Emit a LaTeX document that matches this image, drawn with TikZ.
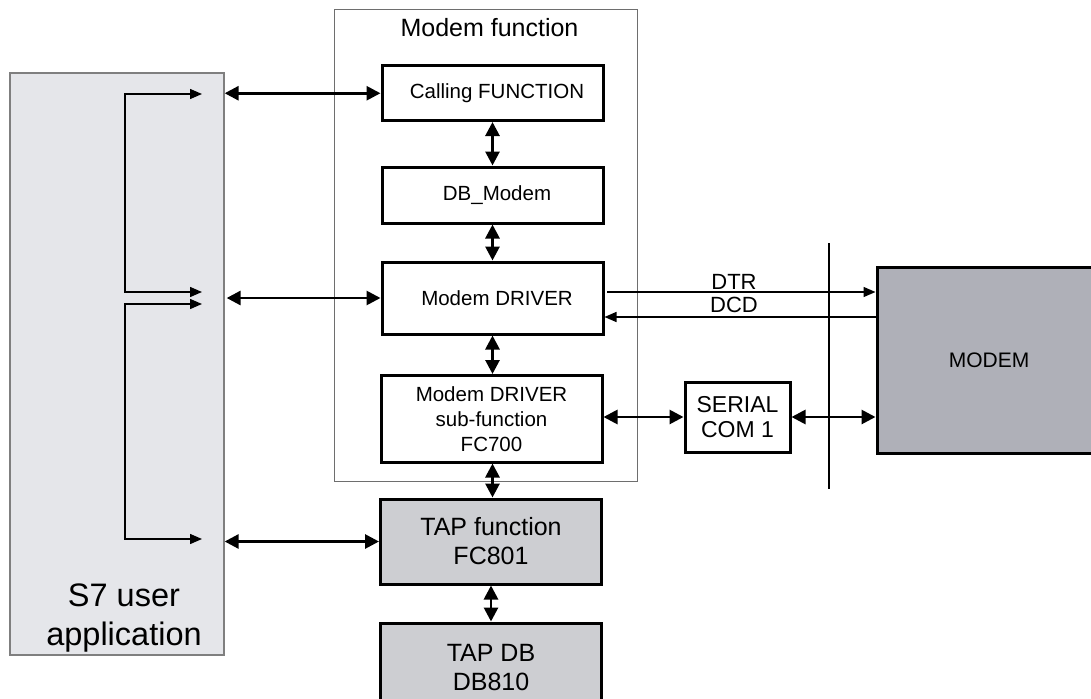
\documentclass[tikz,border=0pt]{standalone}
\usepackage{fontspec}
\setmainfont{Liberation Sans}
\usetikzlibrary{arrows.meta}

\definecolor{appfill}{HTML}{E5E6EA}
\definecolor{appedge}{HTML}{7F7F7F}
\definecolor{tapfill}{HTML}{CDCED2}
\definecolor{modemfill}{HTML}{AFB0B8}
\definecolor{groupedge}{HTML}{6E6E6E}

\tikzset{
  blk/.style={draw=black, line width=3pt, minimum width=221pt, inner sep=0pt,
              align=center, font=\fontsize{20.5}{25}\selectfont},
  tapblk/.style={blk, fill=tapfill, font=\fontsize{25}{29}\selectfont},
  bigarr/.style={line width=2.8pt, {Triangle[length=14pt,width=14pt]}-{Triangle[length=14pt,width=14pt]}},
  thinarr/.style={line width=1.4pt, -{Triangle[length=12pt,width=10pt]}},
  thinboth/.style={line width=1.4pt, {Triangle[length=12pt,width=10pt]}-{Triangle[length=12pt,width=10pt]}},
  sig/.style={font=\fontsize{22}{24}\selectfont, inner sep=0pt}
}

\begin{document}
\begin{tikzpicture}[x=1pt, y=-1pt]
  \useasboundingbox (0,0) rectangle (1091,698);
  \clip (0,0) rectangle (1091,698);

  % user program block
  \node[draw=appedge, line width=1.3pt, fill=appfill, minimum width=214pt, minimum height=582pt,
        inner sep=0pt] (s7) at (117,364) {};
  \node[align=center, font=\fontsize{32.5}{39}\selectfont, inner sep=0pt] (s7txt) at (124,618)
        {S7 user\\application};

  % modem function group
  \node[draw=groupedge, line width=1pt, minimum width=303pt, minimum height=471.5pt,
        inner sep=0pt] (grp) at (485.5,245.75) {};
  \node[font=\fontsize{25}{28}\selectfont, inner sep=0pt] (grptitle) at (489.5,28) {Modem function};

  % blocks inside the group
  \node[blk, minimum height=54.5pt] (call) at (492.5,93.25) {\hspace*{9pt}Calling FUNCTION};
  \node[blk, minimum height=56pt] (dbm) at (492.5,195) {\hspace*{9pt}DB\_Modem};
  \node[blk, minimum height=72pt] (drv) at (492.5,298) {\hspace*{9pt}Modem DRIVER};
  \node[blk, minimum height=86.5pt] (sub) at (491.5,418.75) {Modem DRIVER\\sub-function\\FC700};

  % TAP blocks
  \node[tapblk, minimum height=85pt] (tapf) at (491,541.5) {TAP function\\FC801};
  \node[tapblk, minimum height=90pt] (tapdb) at (491,668) {TAP DB\\DB810};

  % serial interface and modem
  \node[blk, minimum width=105pt, minimum height=70pt, font=\fontsize{23}{24.7}\selectfont]
        (serial) at (737.5,417) {SERIAL\\COM 1};
  \node[draw=black, line width=3pt, fill=modemfill, minimum width=224pt, minimum height=186pt,
        inner sep=0pt, font=\fontsize{21}{24}\selectfont] (modem) at (989,360) {MODEM};

  % boundary line
  \coordinate (sepT) at (829,243);
  \coordinate (sepB) at (829,489);
  \draw[line width=1.3pt] (sepT) -- (sepB);

  % links between user program and blocks
  \draw[bigarr] (s7.east |- call.west) -- (call.west);
  \draw[bigarr] ([xshift=2pt]s7.east |- drv.west) -- (drv.west);
  \draw[bigarr] (s7.east |- tapf.west) -- (tapf.west);

  % vertical chain
  \draw[bigarr] (call.south) -- (call.south |- dbm.north);
  \draw[bigarr] (dbm.south) -- (dbm.south |- drv.north);
  \draw[bigarr] (drv.south) -- (drv.south |- sub.north);
  \draw[bigarr] ([xshift=1pt]sub.south) -- ([xshift=1pt]sub.south |- tapf.north);
  \draw[bigarr] (tapf.south) -- (tapdb.north);

  % serial path
  \draw[bigarr] (sub.east |- serial.west) -- (serial.west);
  \draw[bigarr] (serial.east) -- (serial.east -| modem.west);

  % control signals
  \coordinate (dtr) at (607,292);
  \coordinate (dcd) at (700,317);
  \draw[thinarr] (dtr) -- (dtr -| modem.west);
  \draw[thinarr] (dcd -| modem.west) -- (dcd -| drv.east);
  \node[sig] (dtrlbl) at (734,282) {DTR};
  \node[sig] (dcdlbl) at (734,305) {DCD};

  % call paths inside the user program
  \coordinate (brA) at (125,94);
  \coordinate (brB) at (125,292);
  \coordinate (brC) at (125,304);
  \coordinate (brD) at (125,539);
  \coordinate (tipA) at (202,94);
  \coordinate (tipB) at (202,292);
  \coordinate (tipC) at (202,304);
  \coordinate (tipD) at (202,539);
  \draw[thinboth] (tipA) -- (brA) -- (brB) -- (tipB);
  \draw[thinboth] (tipC) -- (brC) -- (brD) -- (tipD);
\end{tikzpicture}
\end{document}
